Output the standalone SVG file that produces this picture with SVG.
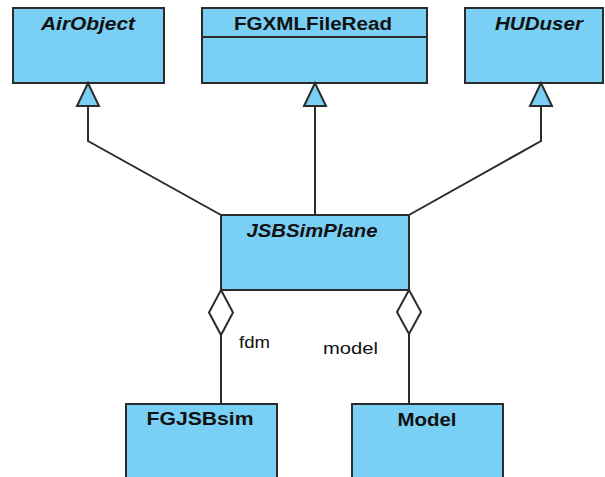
<svg xmlns="http://www.w3.org/2000/svg" width="605" height="477" viewBox="0 0 605 477">
<style>
.box{fill:#7ACFF4;stroke:#2b2b2b;stroke-width:2}
.t{font-family:"Liberation Sans",Arial,sans-serif;font-size:17.5px;font-weight:bold;fill:#111;text-anchor:middle}
.i{font-style:italic}
.lbl{font-family:"Liberation Sans",Arial,sans-serif;font-size:17px;fill:#111}
.ln{fill:none;stroke:#2b2b2b;stroke-width:2}
.tri{fill:#7ACFF4;stroke:#2b2b2b;stroke-width:2;stroke-linejoin:miter}
.dia{fill:#fff;stroke:#2b2b2b;stroke-width:2}
</style>
<rect width="605" height="477" fill="#fff"/>
<g id="AirObject"><rect class="box" x="13" y="8" width="151" height="75"/><text class="t i" x="88" y="30" textLength="94" lengthAdjust="spacingAndGlyphs">AirObject</text></g>
<g id="FGXMLFileRead"><rect class="box" x="202" y="8" width="225" height="75"/><line class="ln" x1="202" y1="37" x2="427" y2="37"/><text class="t" x="313" y="30" textLength="158" lengthAdjust="spacingAndGlyphs">FGXMLFileRead</text></g>
<g id="HUDuser"><rect class="box" x="465" y="8" width="138" height="75"/><text class="t i" x="539" y="30" textLength="88" lengthAdjust="spacingAndGlyphs">HUDuser</text></g>
<g id="JSBSimPlane"><rect class="box" x="221" y="215" width="188" height="75"/><text class="t i" x="312" y="237" textLength="131" lengthAdjust="spacingAndGlyphs">JSBSimPlane</text></g>
<g id="FGJSBsim"><rect class="box" x="126" y="404" width="151" height="80"/><text class="t" x="200" y="425" textLength="107" lengthAdjust="spacingAndGlyphs">FGJSBsim</text></g>
<g id="Model"><rect class="box" x="352" y="404" width="151" height="80"/><text class="t" x="427" y="426" textLength="59" lengthAdjust="spacingAndGlyphs">Model</text></g>
<g id="connectors">
<polyline class="ln" points="88,106 88,141 221,215"/>
<polygon class="tri" points="88,83 77,106 99,106"/>
<line class="ln" x1="315" y1="106" x2="315" y2="215"/>
<polygon class="tri" points="315,83 304,106 326,106"/>
<polyline class="ln" points="541,106 541,141 409,215"/>
<polygon class="tri" points="541,83 530,106 552,106"/>
<line class="ln" x1="221" y1="335" x2="221" y2="404"/>
<polygon class="dia" points="221,290 233,312.5 221,335 209,312.5"/>
<line class="ln" x1="409" y1="334" x2="409" y2="404"/>
<polygon class="dia" points="409,290 421,312 409,334 397,312"/>
<text class="lbl" x="239" y="348" textLength="31" lengthAdjust="spacingAndGlyphs">fdm</text>
<text class="lbl" x="323" y="354" textLength="55" lengthAdjust="spacingAndGlyphs">model</text>
</g>
</svg>
